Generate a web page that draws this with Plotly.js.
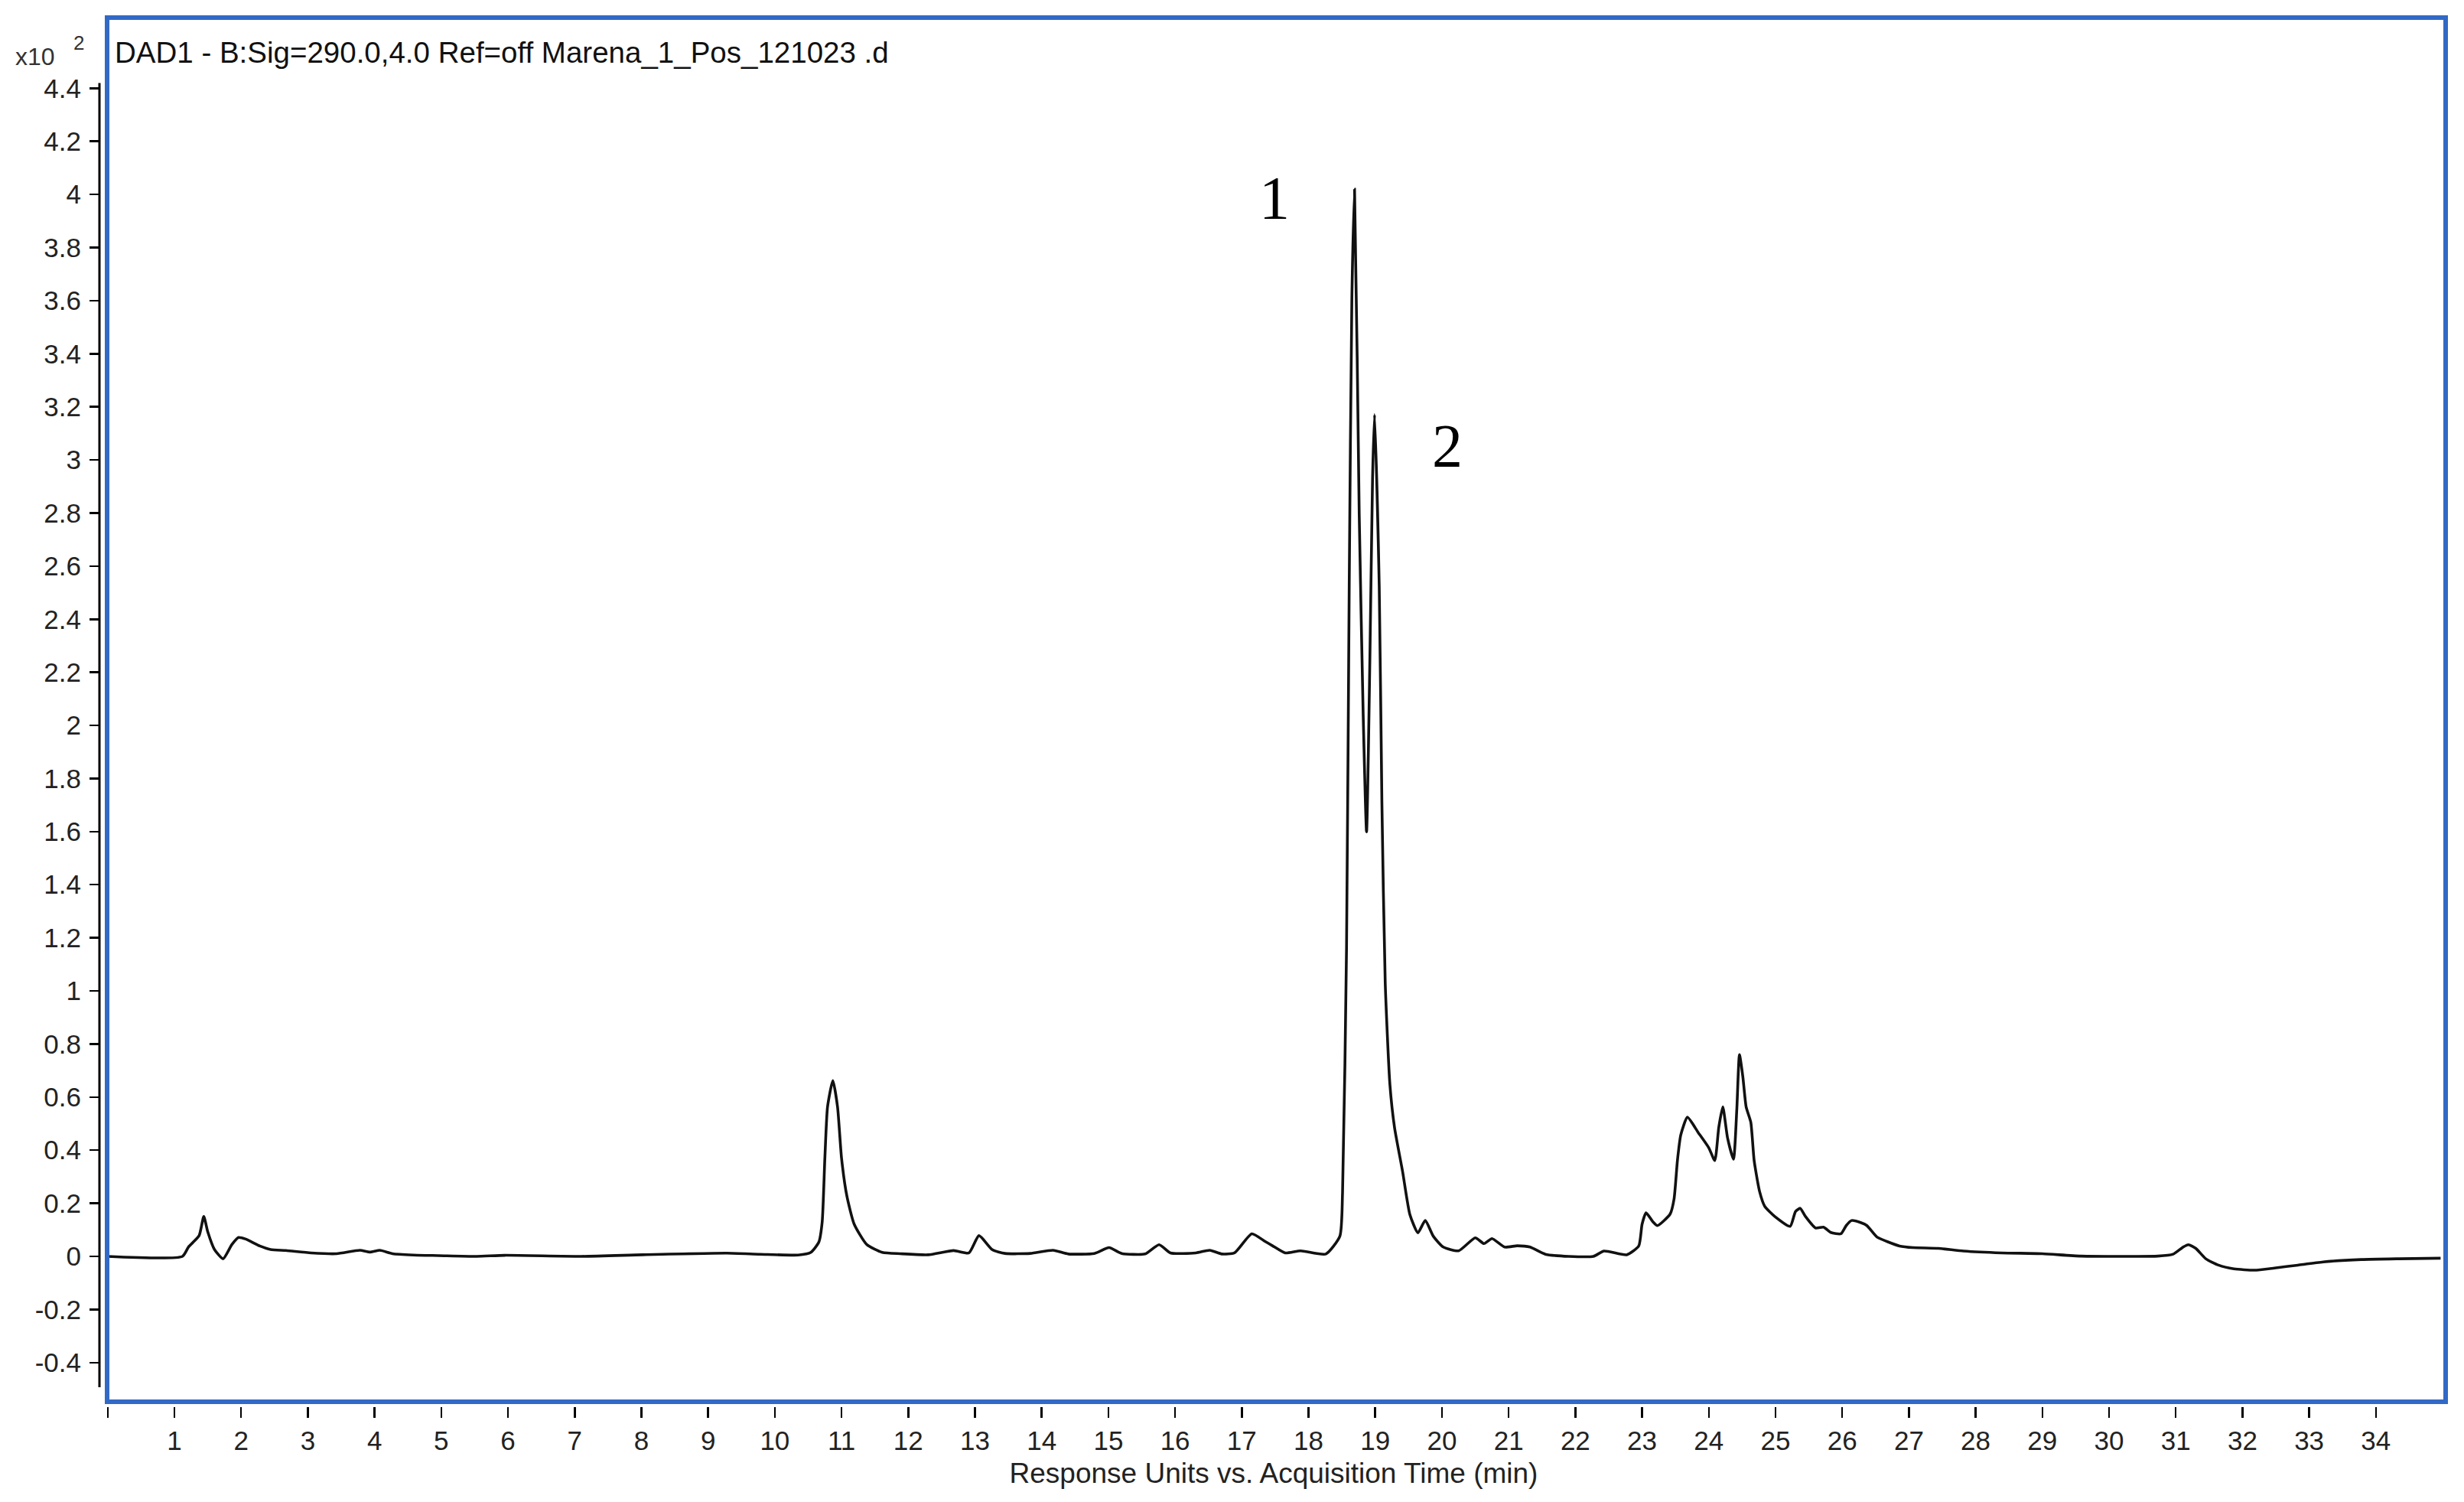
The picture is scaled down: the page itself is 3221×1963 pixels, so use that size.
<!DOCTYPE html>
<html>
<head>
<meta charset="utf-8">
<script src="https://cdn.plot.ly/plotly-3.0.1.min.js"></script>
<style>html,body{margin:0;padding:0;background:#fff;}#chart{width:3221px;height:1963px;}</style>
</head>
<body>
<div id="chart"></div>
<script>
// Acquisition time (min)
const timeMin = [0, 1.12, 1.21, 1.37, 1.44, 1.50, 1.60, 1.73, 1.86, 1.96, 2.07, 2.28, 2.44, 2.67, 3.05, 3.43, 3.78, 3.93, 4.08, 4.27, 4.58, 4.96, 5.53, 5.95, 7.10, 8.02, 9.28, 9.78, 10.35, 10.54, 10.66, 10.71, 10.75, 10.79, 10.87, 10.94, 11.00, 11.08, 11.19, 11.38, 11.61, 11.88, 12.30, 12.68, 12.91, 13.06, 13.26, 13.45, 13.83, 14.17, 14.40, 14.79, 15.01, 15.20, 15.55, 15.76, 15.93, 16.31, 16.52, 16.70, 16.89, 17.15, 17.35, 17.46, 17.65, 17.88, 18.26, 18.47, 18.51, 18.57, 18.61, 18.65, 18.69, 18.76, 18.82, 18.87, 18.92, 18.96, 18.99, 19.06, 19.10, 19.15, 19.22, 19.29, 19.41, 19.52, 19.64, 19.75, 19.87, 20.02, 20.25, 20.50, 20.63, 20.75, 20.94, 21.13, 21.32, 21.55, 21.90, 22.27, 22.43, 22.77, 22.95, 23.00, 23.06, 23.16, 23.23, 23.42, 23.48, 23.53, 23.58, 23.68, 23.84, 24.00, 24.09, 24.15, 24.21, 24.28, 24.37, 24.42, 24.46, 24.51, 24.56, 24.63, 24.68, 24.76, 24.84, 24.99, 25.22, 25.30, 25.37, 25.45, 25.60, 25.72, 25.83, 25.98, 26.06, 26.14, 26.29, 26.37, 26.52, 26.67, 26.86, 27.06, 27.44, 27.82, 28.39, 29.00, 29.58, 30.73, 30.96, 31.11, 31.19, 31.30, 31.45, 31.64, 31.87, 32.18, 32.48, 32.83, 33.21, 33.78, 34.35, 34.97];
// Response (x10^2)
const response = [0.0, 0.0, 0.035, 0.078, 0.15, 0.092, 0.026, -0.009, 0.044, 0.071, 0.065, 0.039, 0.026, 0.022, 0.013, 0.010, 0.023, 0.016, 0.023, 0.010, 0.005, 0.003, 0.0, 0.004, 0.0, 0.006, 0.012, 0.008, 0.005, 0.015, 0.054, 0.13, 0.37, 0.563, 0.662, 0.563, 0.37, 0.227, 0.121, 0.044, 0.015, 0.010, 0.006, 0.022, 0.013, 0.078, 0.025, 0.011, 0.011, 0.023, 0.009, 0.011, 0.033, 0.011, 0.009, 0.044, 0.013, 0.013, 0.023, 0.009, 0.013, 0.085, 0.056, 0.040, 0.013, 0.021, 0.009, 0.076, 0.239, 1.164, 2.524, 3.611, 4.020, 2.795, 2.035, 1.599, 2.252, 2.932, 3.171, 2.524, 1.709, 1.029, 0.647, 0.484, 0.320, 0.157, 0.089, 0.135, 0.076, 0.035, 0.021, 0.070, 0.048, 0.067, 0.035, 0.040, 0.035, 0.008, 0.0, 0.0, 0.02, 0.006, 0.039, 0.121, 0.164, 0.131, 0.116, 0.159, 0.217, 0.361, 0.457, 0.524, 0.467, 0.409, 0.361, 0.486, 0.563, 0.448, 0.366, 0.553, 0.760, 0.678, 0.563, 0.505, 0.361, 0.246, 0.188, 0.150, 0.113, 0.169, 0.181, 0.150, 0.107, 0.110, 0.090, 0.085, 0.116, 0.135, 0.126, 0.116, 0.073, 0.056, 0.039, 0.033, 0.030, 0.020, 0.013, 0.010, 0.001, 0.001, 0.008, 0.035, 0.044, 0.030, -0.009, -0.033, -0.047, -0.052, -0.044, -0.033, -0.021, -0.012, -0.009, -0.007];

const xTickVals = [0, 1, 2, 3, 4, 5, 6, 7, 8, 9, 10, 11, 12, 13, 14, 15, 16, 17, 18, 19, 20, 21, 22, 23, 24, 25, 26, 27, 28, 29, 30, 31, 32, 33, 34];
const xTickText = ["", "1", "2", "3", "4", "5", "6", "7", "8", "9", "10", "11", "12", "13", "14", "15", "16", "17", "18", "19", "20", "21", "22", "23", "24", "25", "26", "27", "28", "29", "30", "31", "32", "33", "34"];
const yTickVals = [-0.4, -0.2, 0, 0.2, 0.4, 0.6, 0.8, 1, 1.2, 1.4, 1.6, 1.8, 2, 2.2, 2.4, 2.6, 2.8, 3, 3.2, 3.4, 3.6, 3.8, 4, 4.2, 4.4];
const yTickText = ["-0.4", "-0.2", "0", "0.2", "0.4", "0.6", "0.8", "1", "1.2", "1.4", "1.6", "1.8", "2", "2.2", "2.4", "2.6", "2.8", "3", "3.2", "3.4", "3.6", "3.8", "4", "4.2", "4.4"];

const chartTitle = "DAD1 - B:Sig=290.0,4.0 Ref=off Marena_1_Pos_121023 .d";
const xTitle = "Response Units vs. Acquisition Time (min)";
const peakLabels = ["1", "2"];
const peakLabelX = [17.49, 20.08];
const peakLabelY = [3.985, 3.052];

const W = 3221, H = 1963;
const mL = 130, mR = 21, mT = 22, mB = 125;
const plotW = W - mL - mR, plotH = H - mT - mB;
const px = v => (v - mL) / plotW;          // pixel x -> paper
const py = v => (H - mB - v) / plotH;      // pixel y -> paper

const trace = {
  x: timeMin, y: response, type: 'scatter', mode: 'lines',
  line: {color: '#111111', width: 3.6, shape: 'spline', smoothing: 0.55}, hoverinfo: 'x+y', showlegend: false
};

const tickFont = {family: 'Liberation Sans, Arial, sans-serif', size: 35, color: '#222222'};

const layout = {
  width: W, height: H,
  margin: {l: mL, r: mR, t: mT, b: mB, pad: 0},
  paper_bgcolor: '#ffffff', plot_bgcolor: '#ffffff',
  showlegend: false,
  xaxis: {
    range: [-0.124, 35.08], showgrid: false, zeroline: false, showline: false,
    tickmode: 'array', tickvals: xTickVals, ticktext: xTickText,
    ticks: 'outside', ticklen: 14, tickwidth: 2.5, tickcolor: '#000000',
    tickfont: tickFont,
    title: {text: xTitle, font: {family: 'Liberation Sans, Arial, sans-serif', size: 37, color: '#222222'}, standoff: 11}
  },
  yaxis: {
    range: [-0.565, 4.669], showgrid: false, zeroline: false, showline: false,
    tickmode: 'array', tickvals: yTickVals, ticktext: yTickText,
    ticks: 'outside', ticklen: 12, tickwidth: 2.5, tickcolor: '#000000',
    tickfont: tickFont, ticklabelstandoff: 4
  },
  shapes: [
    {type: 'line', xref: 'paper', yref: 'y', x0: 0, x1: 0, y0: -0.493, y1: 4.42,
     line: {color: '#000000', width: 3}},
    {type: 'rect', xref: 'paper', yref: 'paper', x0: px(140), x1: px(3197), y0: py(1832), y1: py(23),
     line: {color: '#3169c6', width: 6}, fillcolor: 'rgba(0,0,0,0)'}
  ],
  annotations: [
    {xref: 'paper', yref: 'paper', x: px(148), y: py(68), xanchor: 'left', yanchor: 'middle',
     text: chartTitle, showarrow: false,
     font: {family: 'Liberation Sans, Arial, sans-serif', size: 38.5, color: '#111111'}},
    {xref: 'paper', yref: 'paper', x: px(18), y: py(74), xanchor: 'left', yanchor: 'middle',
     text: 'x10', showarrow: false,
     font: {family: 'Liberation Sans, Arial, sans-serif', size: 32, color: '#333333'}},
    {xref: 'paper', yref: 'paper', x: px(94), y: py(56), xanchor: 'left', yanchor: 'middle',
     text: '2', showarrow: false,
     font: {family: 'Liberation Sans, Arial, sans-serif', size: 26, color: '#333333'}},
    {xref: 'x', yref: 'y', x: peakLabelX[0], y: peakLabelY[0], xanchor: 'center', yanchor: 'middle',
     text: peakLabels[0], showarrow: false,
     font: {family: 'Liberation Serif, Times New Roman, serif', size: 80, color: '#000000'}},
    {xref: 'x', yref: 'y', x: peakLabelX[1], y: peakLabelY[1], xanchor: 'center', yanchor: 'middle',
     text: peakLabels[1], showarrow: false,
     font: {family: 'Liberation Serif, Times New Roman, serif', size: 80, color: '#000000'}}
  ]
};

Plotly.newPlot('chart', [trace], layout, {staticPlot: true, displayModeBar: false});
</script>
</body>
</html>
